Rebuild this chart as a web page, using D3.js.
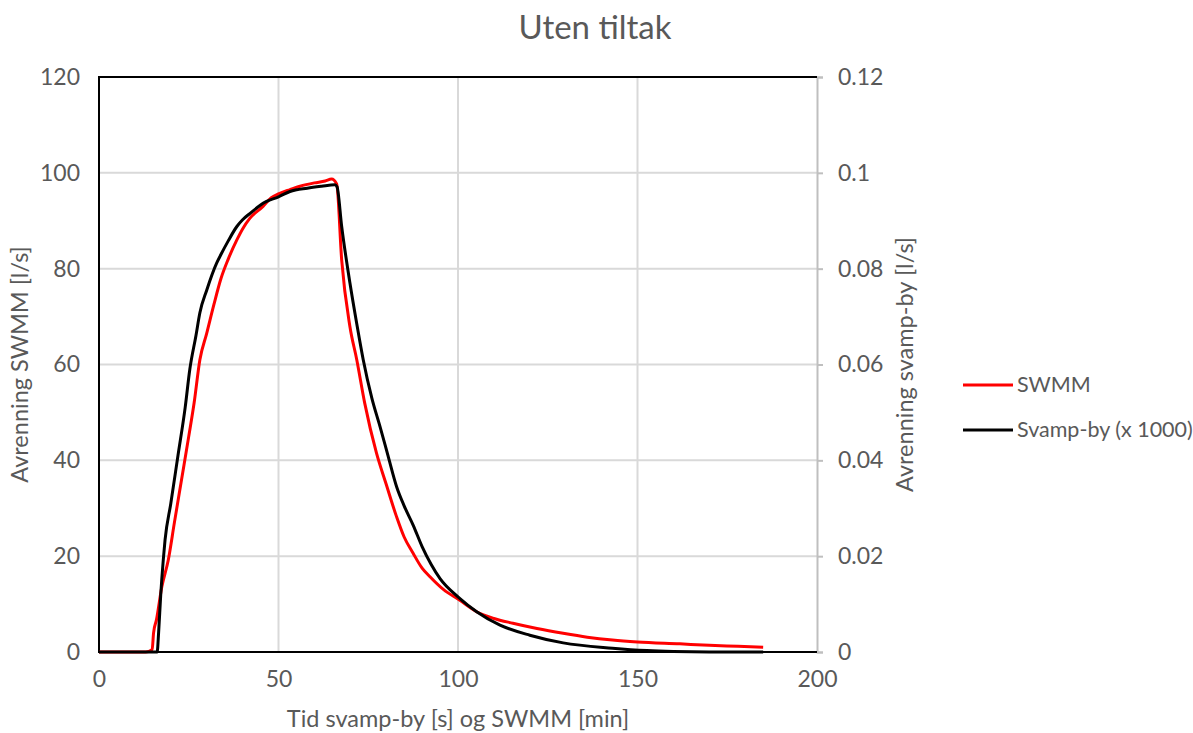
<!DOCTYPE html>
<html>
<head>
<meta charset="utf-8">
<script src="https://cdn.jsdelivr.net/npm/d3@7"></script>
<style>
  body { margin: 0; background: #fff; }
  text { font-family: Lato, "Open Sans", sans-serif; fill: #595959; }
</style>
</head>
<body>
<svg id="chart" width="1193" height="733"></svg>
<script>
// SWMM runoff [l/s] vs time [min]
const swmmTime = [0, 13, 14.8, 15.2, 16, 17.5, 19.3, 21, 23, 25, 26.5, 28.1, 30, 32, 34, 36, 38.4, 40, 42, 45.7, 48, 50, 53.2, 56, 60, 63, 64.8,
  66.2, 67.6, 69.9, 71.8, 74, 77.3, 80, 82.9, 85, 87.5, 90, 92.2, 96, 100.3, 105.2, 110, 115.3, 122, 129.3, 136, 143, 150, 161.8, 170, 178, 185];
const swmmFlow = [0, 0, 0.5, 4, 6.7, 13.6, 19.2, 27, 36, 45, 52, 61, 66.5, 72.5, 78, 82, 86, 88.3, 90.5, 93, 94.8, 95.6, 96.5, 97.2, 97.9, 98.3, 98.7,
  97.7, 81.8, 67.9, 61, 52, 41.5, 35, 28.2, 24, 20.6, 17.5, 15.7, 13, 10.9, 8.4, 7, 6, 4.9, 3.9, 3.1, 2.5, 2.1, 1.7, 1.4, 1.2, 1.0];

// Svamp-by runoff [l/s] vs time [s]
const svampTime = [0, 16.2, 16.6, 17.2, 17.9, 18.4, 20, 22, 24, 25.3, 27, 28.1, 30, 32.8, 34, 36, 38.4, 40, 42, 44, 45.8, 50, 53.2, 58, 62, 65.7,
  66.3, 67.6, 69.9, 71.8, 73.6, 76, 78.3, 80.5, 82.9, 85, 87.5, 90, 92.5, 95, 100.3, 105.2, 111.7, 120, 129.3, 143, 152.6, 160, 170, 185];
const svampFlow = [0, 0, 0.004, 0.012, 0.0192, 0.0234, 0.031, 0.041, 0.051, 0.059, 0.066, 0.0708, 0.0755, 0.0812, 0.083, 0.0858, 0.0888, 0.0902, 0.0915, 0.0927, 0.0937, 0.095, 0.0961, 0.0968, 0.0972, 0.0975,
  0.0971, 0.0888, 0.077, 0.0685, 0.061, 0.053, 0.047, 0.041, 0.0345, 0.0305, 0.0265, 0.022, 0.0183, 0.0153, 0.0113, 0.0084, 0.0056, 0.0035, 0.0019, 0.0008, 0.0003, 0.0001, 0, 0];

const xTicks = [0, 50, 100, 150, 200];
const yLeftTicks = [0, 20, 40, 60, 80, 100, 120];
const yRightTicks = [0, 0.02, 0.04, 0.06, 0.08, 0.1, 0.12];

const seriesNames = ['SWMM', 'Svamp-by (x 1000)'];
const seriesColors = ['#ff0000', '#000000'];

const svg = d3.select('#chart');
const plot = { left: 99, right: 817, top: 77, bottom: 652 };

const x = d3.scaleLinear().domain([0, 200]).range([plot.left, plot.right]);
const yL = d3.scaleLinear().domain([0, 120]).range([plot.bottom, plot.top]);
const yR = d3.scaleLinear().domain([0, 0.12]).range([plot.bottom, plot.top]);

// Gridlines
svg.append('g').selectAll('line')
  .data(yLeftTicks.filter(d => d > 0 && d < 120))
  .join('line')
  .attr('x1', plot.left).attr('x2', plot.right)
  .attr('y1', d => yL(d)).attr('y2', d => yL(d))
  .attr('stroke', '#d9d9d9').attr('stroke-width', 2);
svg.append('g').selectAll('line')
  .data(xTicks.filter(d => d > 0 && d < 200))
  .join('line')
  .attr('y1', plot.top).attr('y2', plot.bottom)
  .attr('x1', d => x(d)).attr('x2', d => x(d))
  .attr('stroke', '#d9d9d9').attr('stroke-width', 2);

// Right axis (gray, outward ticks)
const rightAxis = svg.append('g')
  .attr('transform', `translate(${plot.right},0)`)
  .call(d3.axisRight(yR).tickValues(yRightTicks).tickSize(6).tickPadding(15)
    .tickFormat(d => d === 0 ? '0' : d3.format('~g')(d)));
rightAxis.select('.domain').attr('stroke', '#bfbfbf').attr('stroke-width', 2);
rightAxis.selectAll('.tick line').attr('stroke', '#bfbfbf').attr('stroke-width', 2);
rightAxis.selectAll('.tick text').style('font-size', '23px').attr('fill', '#595959');

// Left axis
const leftAxis = svg.append('g')
  .attr('transform', `translate(${plot.left},0)`)
  .call(d3.axisLeft(yL).tickValues(yLeftTicks).tickSize(0).tickPadding(19));
leftAxis.select('.domain').remove();
leftAxis.selectAll('.tick text').style('font-size', '23px').attr('fill', '#595959');

// Bottom axis
const bottomAxis = svg.append('g')
  .attr('transform', `translate(0,${plot.bottom})`)
  .call(d3.axisBottom(x).tickValues(xTicks).tickSize(0).tickPadding(19));
bottomAxis.select('.domain').remove();
bottomAxis.selectAll('.tick text').style('font-size', '23px').attr('fill', '#595959');

// Black frame on left, top, bottom
svg.append('path')
  .attr('d', `M${plot.right},${plot.top}H${plot.left}V${plot.bottom}H${plot.right}`)
  .attr('fill', 'none').attr('stroke', '#000').attr('stroke-width', 2);

// Series lines
const lineL = d3.line().x(d => x(d[0])).y(d => yL(d[1])).curve(d3.curveMonotoneX);
const lineR = d3.line().x(d => x(d[0])).y(d => yR(d[1])).curve(d3.curveMonotoneX);

svg.append('path')
  .datum(swmmTime.map((t, i) => [t, swmmFlow[i]]))
  .attr('d', lineL)
  .attr('fill', 'none').attr('stroke', seriesColors[0]).attr('stroke-width', 3)
  .attr('stroke-linejoin', 'round');

svg.append('path')
  .datum(svampTime.map((t, i) => [t, svampFlow[i]]))
  .attr('d', lineR)
  .attr('fill', 'none').attr('stroke', seriesColors[1]).attr('stroke-width', 3)
  .attr('stroke-linejoin', 'round');

// Title
svg.append('text')
  .attr('x', 595).attr('y', 39)
  .attr('text-anchor', 'middle')
  .style('font-size', '33px')
  .text('Uten tiltak');

// Axis titles
svg.append('text')
  .attr('x', (plot.left + plot.right) / 2).attr('y', 727)
  .attr('text-anchor', 'middle')
  .style('font-size', '23.5px')
  .text('Tid svamp-by [s] og SWMM [min]');

svg.append('text')
  .attr('transform', `translate(28,${(plot.top + plot.bottom) / 2}) rotate(-90)`)
  .attr('text-anchor', 'middle')
  .style('font-size', '23.5px')
  .text('Avrenning SWMM [l/s]');

svg.append('text')
  .attr('transform', `translate(913,${(plot.top + plot.bottom) / 2}) rotate(-90)`)
  .attr('text-anchor', 'middle')
  .style('font-size', '23.5px')
  .text('Avrenning svamp-by [l/s]');

// Legend
const legend = svg.append('g');
seriesNames.forEach((name, i) => {
  const ly = 385 + i * 45;
  legend.append('line')
    .attr('x1', 963).attr('x2', 1013)
    .attr('y1', ly).attr('y2', ly)
    .attr('stroke', seriesColors[i]).attr('stroke-width', 3);
  legend.append('text')
    .attr('x', 1017).attr('y', ly + 7)
    .style('font-size', '21.5px')
    .text(name);
});
</script>
</body>
</html>
